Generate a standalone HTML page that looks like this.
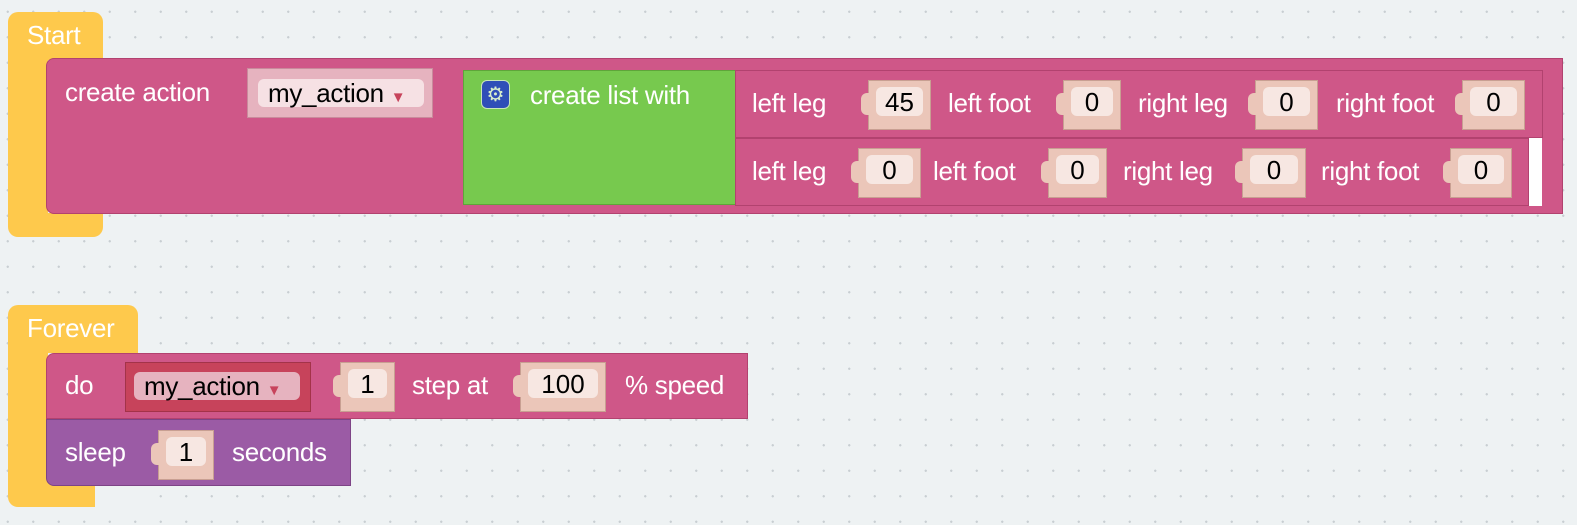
<!DOCTYPE html>
<html><head><meta charset="utf-8">
<style>
html,body{margin:0;padding:0}
body{width:1577px;height:525px;position:relative;overflow:hidden;background-color:#eef2f3;
background-image:radial-gradient(circle,#c8ced2 1px,transparent 1.3px);background-size:25.5px 25.5px;background-position:-5px -1px;
font-family:"Liberation Sans",sans-serif}
.a{position:absolute;box-sizing:border-box}
.y{background:#fec94c;border-radius:10px}
.pk{background:#cf5788;border:1px solid #b2426f}
.t{position:absolute;color:#fff;font-size:26px;line-height:30px;white-space:nowrap;letter-spacing:-0.3px}
.nb{position:absolute;background:#ebc6b9;border:1px solid #c89f92;box-sizing:border-box}
.nb .p{position:absolute;left:7px;right:7px;top:6px;bottom:13px;background:#f7e7e2;border-radius:6px;color:#000;font-size:26px;text-align:center;line-height:30px}
.nb:before{content:"";position:absolute;left:-8px;top:12px;width:10px;height:22px;background:inherit;border-radius:6px 0 0 6px}
.dd{font-size:26px;line-height:28px;padding-left:10px;color:#000;letter-spacing:-0.3px;white-space:nowrap}
</style></head><body>
<div class="a y" style="left:8px;top:12px;width:95px;height:225px"></div>
<div class="t" style="left:27px;top:20px">Start</div>
<div class="a" style="left:48px;top:60px;width:60px;height:153px;background:#eef2f3"></div>
<div class="a pk" style="left:46px;top:58px;width:1517px;height:156px;border-radius:8px 0 0 8px"></div>
<div class="t" style="left:65px;top:77px">create action</div>
<div class="a" style="left:247px;top:68px;width:186px;height:50px;background:#e6b3bf;border:1px solid #c98b9c"></div>
<div class="a dd" style="left:258px;top:79px;width:166px;height:28px;background:#f6e1e4;border-radius:6px">my_action <span style="color:#c7435b;font-size:15px">▼</span></div>
<div class="a" style="left:463px;top:70px;width:273px;height:135px;background:#77c94e;border:1px solid #5ea53a"></div>
<div class="a" style="left:481px;top:80px;width:29px;height:29px;background:#2f4fb8;border:1px solid #c9e6b9;border-radius:6px;color:#d8eecb;font-size:20px;text-align:center;line-height:28px">⚙</div>
<div class="t" style="left:530px;top:80px">create list with</div>
<div class="a pk" style="left:735px;top:70px;width:808px;height:68px"></div>
<div class="a pk" style="left:735px;top:138px;width:794px;height:68px"></div>
<div class="a" style="left:1529px;top:138px;width:13px;height:68px;background:#fff"></div>
<div class="t" style="left:752px;top:88px">left leg</div>
<div class="nb" style="left:868px;top:80px;width:63px;height:50px"><div class="p">45</div></div>
<div class="t" style="left:948px;top:88px">left foot</div>
<div class="nb" style="left:1063px;top:80px;width:58px;height:50px"><div class="p">0</div></div>
<div class="t" style="left:1138px;top:88px">right leg</div>
<div class="nb" style="left:1255px;top:80px;width:63px;height:50px"><div class="p">0</div></div>
<div class="t" style="left:1336px;top:88px">right foot</div>
<div class="nb" style="left:1462px;top:80px;width:63px;height:50px"><div class="p">0</div></div>
<div class="t" style="left:752px;top:156px">left leg</div>
<div class="nb" style="left:858px;top:148px;width:63px;height:50px"><div class="p">0</div></div>
<div class="t" style="left:933px;top:156px">left foot</div>
<div class="nb" style="left:1048px;top:148px;width:59px;height:50px"><div class="p">0</div></div>
<div class="t" style="left:1123px;top:156px">right leg</div>
<div class="nb" style="left:1242px;top:148px;width:64px;height:50px"><div class="p">0</div></div>
<div class="t" style="left:1321px;top:156px">right foot</div>
<div class="nb" style="left:1450px;top:148px;width:62px;height:50px"><div class="p">0</div></div>

<div class="a y" style="left:8px;top:305px;width:130px;height:202px"></div>
<div class="a" style="left:48px;top:353px;width:95px;height:130px;background:#eef2f3"></div>
<div class="a" style="left:95px;top:482px;width:50px;height:30px;background:#eef2f3"></div>
<div class="t" style="left:27px;top:313px">Forever</div>
<div class="a pk" style="left:46px;top:353px;width:702px;height:66px;border-radius:8px 0 0 0"></div>
<div class="t" style="left:65px;top:370px">do</div>
<div class="a" style="left:125px;top:362px;width:186px;height:50px;background:#c7435b;border:1px solid #a33349"></div>
<div class="a dd" style="left:134px;top:372px;width:166px;height:28px;background:#e6b3bf;border-radius:6px">my_action <span style="color:#c7435b;font-size:15px">▼</span></div>
<div class="nb" style="left:340px;top:362px;width:55px;height:50px"><div class="p">1</div></div>
<div class="t" style="left:412px;top:370px">step at</div>
<div class="nb" style="left:520px;top:362px;width:86px;height:50px"><div class="p">100</div></div>
<div class="t" style="left:625px;top:370px">% speed</div>
<div class="a" style="left:46px;top:419px;width:305px;height:67px;background:#9b5ba5;border:1px solid #7d4486;border-radius:0 0 0 8px"></div>
<div class="t" style="left:65px;top:437px">sleep</div>
<div class="nb" style="left:158px;top:430px;width:56px;height:50px"><div class="p">1</div></div>
<div class="t" style="left:232px;top:437px">seconds</div>
</body></html>
